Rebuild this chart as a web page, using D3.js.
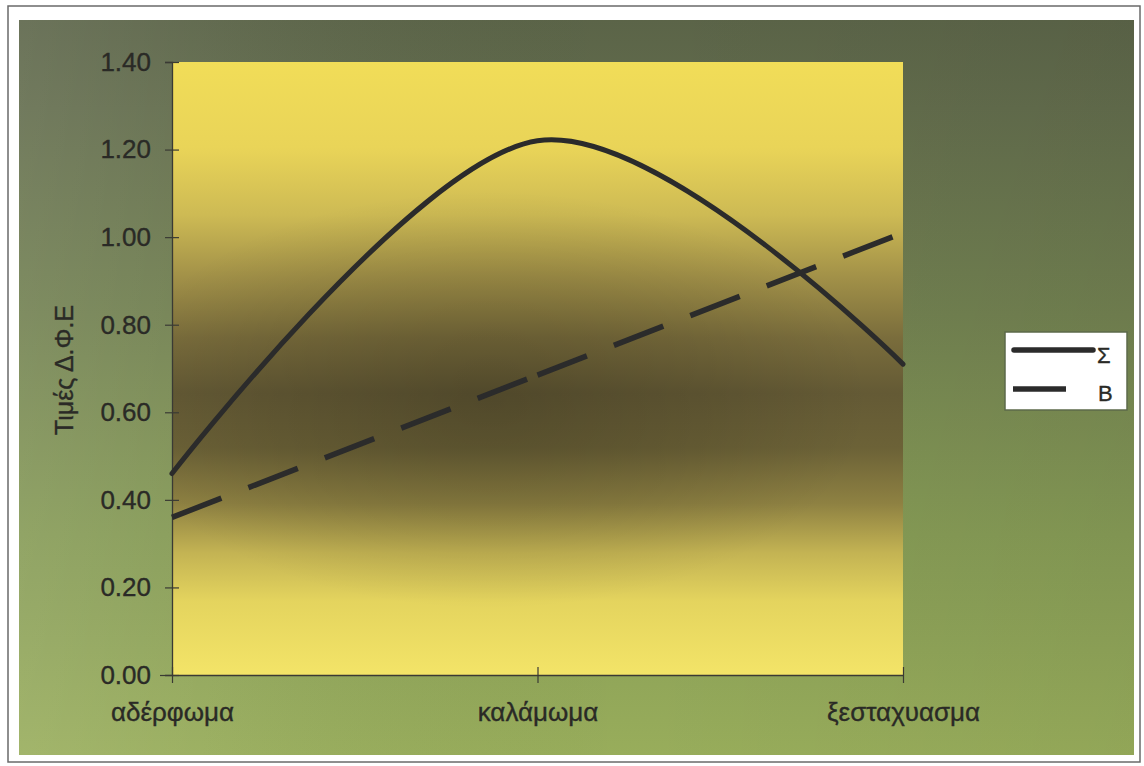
<!DOCTYPE html>
<html>
<head>
<meta charset="utf-8">
<script src="https://cdn.jsdelivr.net/npm/d3@7"></script>
<style>
  html, body { margin: 0; padding: 0; background: #ffffff; }
  svg { display: block; }
  text { font-family: "Liberation Sans", Arial, sans-serif; fill: #2a2a26; }
</style>
</head>
<body>
<svg id="chart" width="1144" height="766"></svg>
<script>
// Stages of the crop
const categories = ["αδέρφωμα", "καλάμωμα", "ξεσταχυασμα"];
// Series values (Τιμές Δ.Φ.Ε)
const seriesS = [0.46, 1.22, 0.71];
const seriesB = [0.36, 0.685, 1.01];
const seriesNames = ["Σ", "Β"];
const yTicks = [0, 0.2, 0.4, 0.6, 0.8, 1.0, 1.2, 1.4];
const yTitle = "Τιμές Δ.Φ.Ε";

const svg = d3.select("#chart");
const defs = svg.append("defs");
const FONT = "'Liberation Sans', Arial, sans-serif";
const INK = "#2a2a26";

// Layout
const outer = { x: 19, y: 20, w: 1115, h: 735 };
const plot = { left: 172, right: 903, top: 62, bottom: 675 };

// Outer chart-area gradient
const og = defs.append("linearGradient").attr("id", "outerGrad")
  .attr("x1", 0).attr("y1", 0).attr("x2", 0).attr("y2", 1);
[["0%", "#5b6448"], ["12%", "#626c4c"], ["40%", "#718050"], ["70%", "#859a55"], ["100%", "#98ad5b"]]
  .forEach(([o, c]) => og.append("stop").attr("offset", o).attr("stop-color", c));

const oh = defs.append("linearGradient").attr("id", "outerSide")
  .attr("x1", 0).attr("y1", 0).attr("x2", 1).attr("y2", 0);
[["0%", "#ffffff", 0.1], ["16%", "#ffffff", 0.05], ["55%", "#000000", 0.0], ["100%", "#000000", 0.04]]
  .forEach(([o, c, a]) => oh.append("stop").attr("offset", o).attr("stop-color", c).attr("stop-opacity", a));

// Plot-area gradient: yellow at top and bottom, dark olive in the middle
const pg = defs.append("linearGradient").attr("id", "plotGrad")
  .attr("x1", 0).attr("y1", 0).attr("x2", 0).attr("y2", 1);
[["0%", "#f1dd58"], ["14%", "#e9d458"], ["25%", "#cdba54"], ["35%", "#a29148"], ["45%", "#7a6d3c"],
 ["54%", "#645a35"], ["63%", "#6c6237"], ["72%", "#8e8142"], ["80%", "#c3b353"], ["88%", "#e4d45e"], ["100%", "#f3e468"]]
  .forEach(([o, c]) => pg.append("stop").attr("offset", o).attr("stop-color", c));

const pr = defs.append("radialGradient").attr("id", "plotShade")
  .attr("gradientUnits", "userSpaceOnUse")
  .attr("cx", 490).attr("cy", 400).attr("r", 380)
  .attr("gradientTransform", "translate(490,400) scale(1,0.55) translate(-490,-400)");
[["0%", 0.2], ["60%", 0.09], ["100%", 0]]
  .forEach(([o, a]) => pr.append("stop").attr("offset", o).attr("stop-color", "#000").attr("stop-opacity", a));

// Page frame
svg.append("rect").attr("x", 8).attr("y", 6).attr("width", 1132).attr("height", 756)
  .attr("fill", "#ffffff").attr("stroke", "#6a6a6a").attr("stroke-width", 1.5);

// Chart area
svg.append("rect").attr("x", outer.x).attr("y", outer.y).attr("width", outer.w).attr("height", outer.h)
  .attr("fill", "url(#outerGrad)");
svg.append("rect").attr("x", outer.x).attr("y", outer.y).attr("width", outer.w).attr("height", outer.h)
  .attr("fill", "url(#outerSide)");

// Plot area
svg.append("rect").attr("x", plot.left).attr("y", plot.top)
  .attr("width", plot.right - plot.left).attr("height", plot.bottom - plot.top)
  .attr("fill", "url(#plotGrad)");
svg.append("rect").attr("x", plot.left).attr("y", plot.top)
  .attr("width", plot.right - plot.left).attr("height", plot.bottom - plot.top)
  .attr("fill", "url(#plotShade)");

// Scales
const x = d3.scalePoint().domain(categories).range([plot.left, plot.right]);
const y = d3.scaleLinear().domain([0, 1.4]).range([plot.bottom, plot.top]);

function styleText(sel, size) {
  sel.attr("font-size", size).attr("fill", INK).attr("font-family", FONT)
    .attr("stroke", INK).attr("stroke-width", 0.35);
}

// Y axis
const yAxis = svg.append("g").attr("transform", `translate(${plot.left},0)`)
  .call(d3.axisLeft(y).tickValues(yTicks).tickFormat(d3.format(".2f")).tickSize(7).tickPadding(14));
yAxis.select(".domain").attr("stroke", "#3a3a34").attr("stroke-width", 1.3);
yAxis.selectAll(".tick line").attr("x1", -7).attr("x2", 7).attr("stroke", "#3a3a34").attr("stroke-width", 1.2);
yAxis.selectAll(".tick text").call(styleText, 26);
yAxis.select(".tick:first-of-type line").attr("x1", -12);

// X axis
const xAxis = svg.append("g").attr("transform", `translate(0,${plot.bottom})`)
  .call(d3.axisBottom(x).tickSize(8).tickSizeOuter(0));
xAxis.select(".domain").attr("stroke", "#3a3a34").attr("stroke-width", 1.3);
xAxis.selectAll(".tick line").attr("y1", -8).attr("y2", 8).attr("stroke", "#3a3a34").attr("stroke-width", 1.2);
xAxis.selectAll(".tick text").call(styleText, 26).attr("y", 46).attr("dy", 0);

// Y axis title
svg.append("text")
  .attr("transform", `translate(73,370) rotate(-90)`)
  .attr("text-anchor", "middle")
  .call(styleText, 25)
  .text(yTitle);

// Series Σ: smoothed solid line
const smooth = d3.line()
  .x((d, i) => x(categories[i]))
  .y(d => y(d))
  .curve(d3.curveCardinal.tension(0));

svg.append("path").datum(seriesS)
  .attr("d", smooth)
  .attr("fill", "none")
  .attr("stroke", "#2b2b2b")
  .attr("stroke-width", 5)
  .attr("stroke-linecap", "round");

// Series Β: dashed line, pattern restarts at every data point
const straight = d3.line().x(d => x(d.c)).y(d => y(d.v));
const segB = d3.pairs(seriesB.map((v, i) => ({ c: categories[i], v })));
svg.append("g").selectAll("path").data(segB).join("path")
  .attr("d", d => straight(d))
  .attr("fill", "none")
  .attr("stroke", "#2b2b2b")
  .attr("stroke-width", 5.5)
  .attr("stroke-dasharray", "53,29");

// Legend
const lg = svg.append("g");
lg.append("rect").attr("x", 1005).attr("y", 332).attr("width", 122).attr("height", 78)
  .attr("fill", "#ffffff").attr("stroke", "#5c6a4a").attr("stroke-width", 1.5);
lg.append("line").attr("x1", 1014).attr("x2", 1093).attr("y1", 350).attr("y2", 350)
  .attr("stroke", "#2b2b2b").attr("stroke-width", 5.5).attr("stroke-linecap", "round");
lg.append("line").attr("x1", 1013).attr("x2", 1066).attr("y1", 389).attr("y2", 389)
  .attr("stroke", "#2b2b2b").attr("stroke-width", 5.5);
lg.append("text").attr("x", 1097).attr("y", 363).call(styleText, 22).text(seriesNames[0]);
lg.append("text").attr("x", 1098).attr("y", 401).call(styleText, 22).text(seriesNames[1]);
</script>
</body>
</html>
